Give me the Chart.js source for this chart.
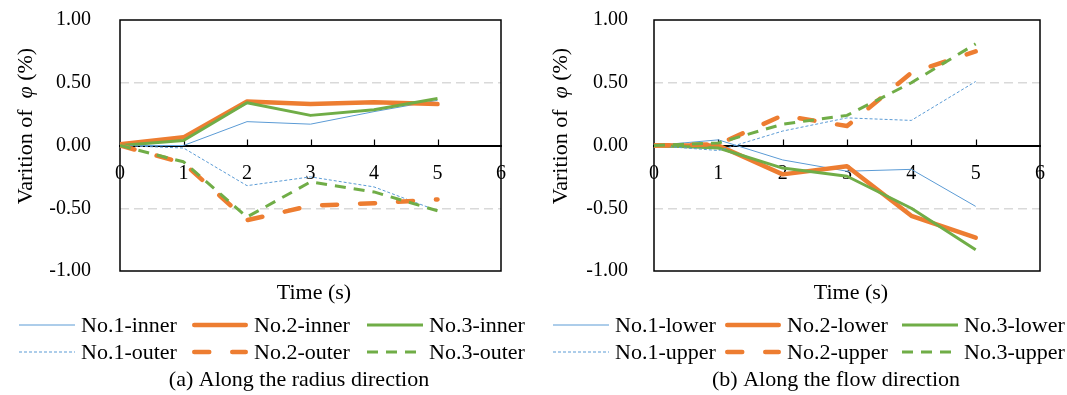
<!DOCTYPE html>
<html>
<head>
<meta charset="utf-8">
<script src="https://cdn.jsdelivr.net/npm/chart.js@4.4.1/dist/chart.umd.min.js"></script>
<style>
  html, body { margin: 0; padding: 0; background: #ffffff; }
  #wrap { position: relative; width: 1067px; height: 395px; overflow: hidden; }
  canvas { position: absolute; top: 0; }
</style>
</head>
<body>
<div id="wrap">
  <canvas id="radius" width="533" height="395" style="left:0px"></canvas>
  <canvas id="flow" width="534" height="395" style="left:533px"></canvas>
</div>
<script>
// Time axis (s)
const times = [0, 1, 2, 3, 4, 5];

// (a) Along the radius direction — variation of phi (%)
const radiusLabels = ['No.1-inner', 'No.2-inner', 'No.3-inner', 'No.1-outer', 'No.2-outer', 'No.3-outer'];
const no1Inner = [0, 0, 0.19, 0.17, 0.27, 0.36];
const no2Inner = [0.01, 0.065, 0.35, 0.33, 0.345, 0.33];
const no3Inner = [0, 0.04, 0.34, 0.24, 0.285, 0.375];
const no1Outer = [0, -0.02, -0.32, -0.25, -0.33, -0.52];
const no2Outer = [0, -0.14, -0.595, -0.48, -0.46, -0.43];
const no3Outer = [0, -0.13, -0.57, -0.29, -0.37, -0.52];

// (b) Along the flow direction — variation of phi (%)
const flowLabels = ['No.1-lower', 'No.2-lower', 'No.3-lower', 'No.1-upper', 'No.2-upper', 'No.3-upper'];
const no1Lower = [0, 0.045, -0.115, -0.205, -0.19, -0.485];
const no2Lower = [0, 0, -0.23, -0.165, -0.56, -0.735];
const no3Lower = [0, -0.02, -0.18, -0.245, -0.5, -0.83];
const no1Upper = [0, -0.04, 0.115, 0.22, 0.2, 0.51];
const no2Upper = [0, 0.01, 0.24, 0.155, 0.58, 0.75];
const no3Upper = [0, 0.02, 0.17, 0.24, 0.5, 0.81];

// Captions and axis titles
const captionA = '(a) Along the radius direction';
const captionB = '(b) Along the flow direction';
const xTitle = 'Time (s)';
const yTitleParts = ['Varition of  ', 'φ', ' (%)'];

const SERIF = '"Liberation Serif", "Times New Roman", serif';
const BLUE = '#5B9BD5', ORANGE = '#ED7D31', GREEN = '#70AD47';

// line style for each of the six series (same order as the label arrays)
const styles = [
  { color: BLUE,   width: 1,   dash: [],       cap: 'butt' },
  { color: ORANGE, width: 4.5, dash: [],       cap: 'round' },
  { color: GREEN,  width: 3,   dash: [],       cap: 'butt' },
  { color: BLUE,   width: 1,   dash: [3, 2],   cap: 'butt' },
  { color: ORANGE, width: 4.5, dash: [15, 23], cap: 'round' },
  { color: GREEN,  width: 3,   dash: [11, 8],  cap: 'butt' }
];

function toPoints(values) {
  return times.map((t, i) => ({ x: t, y: values[i] }));
}

function buildDatasets(labels, series) {
  return series.map((vals, i) => ({
    label: labels[i],
    data: toPoints(vals),
    borderColor: styles[i].color,
    backgroundColor: styles[i].color,
    borderWidth: styles[i].width,
    borderDash: styles[i].dash,
    borderCapStyle: styles[i].cap,
    borderJoinStyle: 'round',
    pointRadius: 0,
    tension: 0,
    fill: false,
    order: 10 - i
  }));
}

// frame, inner tick marks, axis titles, legend and caption
const decor = {
  id: 'decor',
  beforeDatasetsDraw(chart) {
    const { ctx, chartArea: a, scales } = chart;
    ctx.save();
    ctx.strokeStyle = '#000';
    ctx.lineWidth = 1.5;
    ctx.strokeRect(a.left, a.top, a.right - a.left, a.bottom - a.top);
    // short tick marks rising from the zero line
    const y0 = scales.y.getPixelForValue(0);
    ctx.lineWidth = 1.2;
    for (let t = 1; t <= 5; t++) {
      const px = Math.round(scales.x.getPixelForValue(t)) + 0.5;
      ctx.beginPath();
      ctx.moveTo(px, y0);
      ctx.lineTo(px, y0 - 6);
      ctx.stroke();
    }
    ctx.restore();
  },
  afterDraw(chart) {
    const { ctx } = chart;
    const o = chart.options.plugins.decor;
    ctx.save();
    ctx.fillStyle = '#000';
    ctx.textBaseline = 'middle';

    // x title
    ctx.font = '22px ' + SERIF;
    ctx.textAlign = 'center';
    ctx.fillText(xTitle, o.xTitleX, o.xTitleY);

    // y title (rotated, phi in italic)
    ctx.save();
    ctx.translate(o.yTitleX, o.yTitleY);
    ctx.rotate(-Math.PI / 2);
    ctx.textAlign = 'left';
    const fonts = ['22px ' + SERIF, 'italic 22px ' + SERIF, '22px ' + SERIF];
    let total = 0;
    yTitleParts.forEach((p, i) => { ctx.font = fonts[i]; total += ctx.measureText(p).width; });
    let cx = -total / 2;
    yTitleParts.forEach((p, i) => {
      ctx.font = fonts[i];
      ctx.fillText(p, cx, 0);
      cx += ctx.measureText(p).width;
    });
    ctx.restore();

    // legend: two rows of three entries
    ctx.font = '22px ' + SERIF;
    ctx.textAlign = 'left';
    chart.data.datasets.forEach((ds, i) => {
      const col = i % 3, row = Math.floor(i / 3);
      const sx = o.legendX[col];
      const y = o.legendY[row];
      ctx.save();
      ctx.strokeStyle = ds.borderColor;
      ctx.lineWidth = ds.borderWidth;
      ctx.lineCap = ds.borderCapStyle;
      ctx.setLineDash(ds.borderDash);
      const inset = ds.borderCapStyle === 'round' ? ds.borderWidth / 2 : 0;
      ctx.beginPath();
      ctx.moveTo(sx + inset, y);
      ctx.lineTo(sx + o.sampleLen - inset, y);
      ctx.stroke();
      ctx.restore();
      ctx.fillText(ds.label, sx + o.sampleLen + 6, y + 1);
    });

    // caption
    ctx.textAlign = 'center';
    ctx.fillText(o.caption, o.captionX, o.captionY);
    ctx.restore();
  }
};

function makeChart(id, labels, series, geo) {
  const canvas = document.getElementById(id);
  return new Chart(canvas, {
    type: 'line',
    data: { datasets: buildDatasets(labels, series) },
    plugins: [decor],
    options: {
      responsive: false,
      animation: false,
      devicePixelRatio: 1,
      events: [],
      layout: { padding: { left: 0, right: geo.padRight, top: 20, bottom: 124 } },
      scales: {
        x: {
          type: 'linear',
          position: { y: 0 },
          min: 0, max: 6,
          // the time axis sits on the zero line, so it takes no layout room
          afterFit(scale) {
            scale.height = 0;
            scale.paddingLeft = 0;
            scale.paddingRight = 0;
          },
          grid: { display: true, drawOnChartArea: false, drawTicks: false },
          border: { display: true, color: '#000', width: 2 },
          ticks: {
            stepSize: 1,
            padding: 16,
            color: '#000',
            font: { family: SERIF, size: 20 },
            maxRotation: 0,
            autoSkip: false
          }
        },
        y: {
          type: 'linear',
          position: 'left',
          min: -1, max: 1,
          afterFit(scale) {
            scale.width = geo.axisWidth;
            // outer labels only need half their height beyond the plot
            scale.paddingTop = 12;
            scale.paddingBottom = 12;
          },
          grid: {
            drawTicks: false,
            lineWidth: 1.5,
            color: (c) => (Math.abs(Math.abs(c.tick.value) - 0.5) < 1e-9 ? '#d9d9d9' : 'rgba(0,0,0,0)')
          },
          border: { display: false, dash: [9, 5] },
          ticks: {
            stepSize: 0.5,
            padding: geo.tickPad,
            color: '#000',
            font: { family: SERIF, size: 20 },
            callback: (v) => v.toFixed(2)
          }
        }
      },
      plugins: {
        legend: { display: false },
        tooltip: { enabled: false },
        decor: geo.decor
      }
    }
  });
}

makeChart('radius', radiusLabels, [no1Inner, no2Inner, no3Inner, no1Outer, no2Outer, no3Outer], {
  padRight: 32,
  axisWidth: 120,
  tickPad: 29,
  decor: {
    xTitleX: 314, xTitleY: 293,
    yTitleX: 26, yTitleY: 126,
    legendX: [19, 192, 367], legendY: [325, 352], sampleLen: 56,
    caption: captionA, captionX: 299, captionY: 380
  }
});

makeChart('flow', flowLabels, [no1Lower, no2Lower, no3Lower, no1Upper, no2Upper, no3Upper], {
  padRight: 27,
  axisWidth: 121,
  tickPad: 26,
  decor: {
    xTitleX: 318, xTitleY: 293,
    yTitleX: 28, yTitleY: 126,
    legendX: [20, 192, 369], legendY: [325, 352], sampleLen: 56,
    caption: captionB, captionX: 303, captionY: 380
  }
});
</script>
</body>
</html>
